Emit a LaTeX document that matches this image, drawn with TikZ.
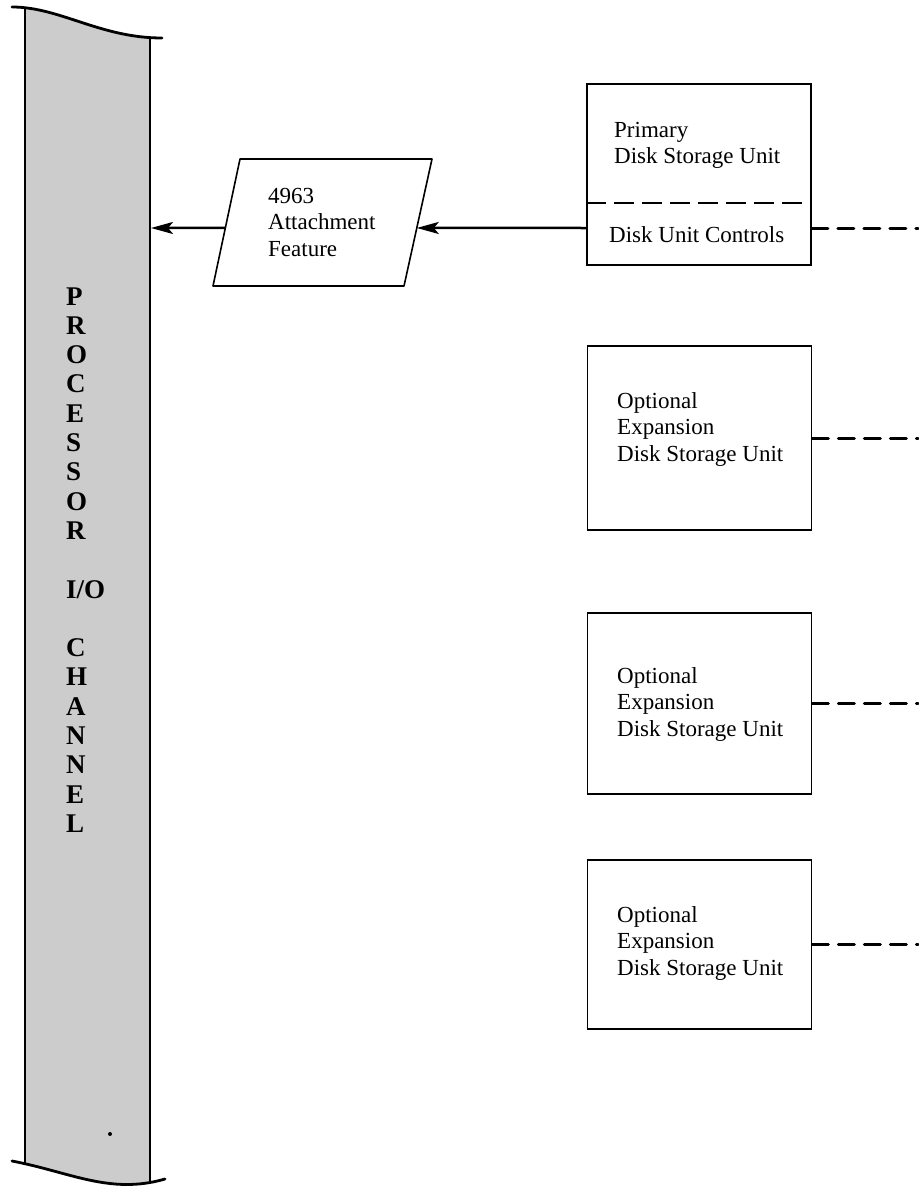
\documentclass[tikz,border=0pt]{standalone}
\usepackage{fontspec}
\setmainfont{Liberation Serif}
\usetikzlibrary{arrows.meta,calc}

\tikzset{
  unit/.style={draw, line width=1.6pt, minimum width=224pt, inner sep=0pt},
  unittext/.style={anchor=base west, align=left, inner sep=0pt,
    font=\fontsize{23}{26.8}\selectfont},
  chantext/.style={anchor=base west, align=left, inner sep=0pt,
    font=\bfseries\fontsize{27}{29.3}\selectfont},
  feed/.style={line width=2.5pt, -{Stealth[length=22pt,width=12pt,inset=5pt]}},
  cable/.style={line width=3pt, line cap=round, dash pattern=on 16pt off 10pt},
  divider/.style={line width=1.3pt, dash pattern=on 20pt off 8pt},
  chanline/.style={line width=2pt},
  chanend/.style={line width=2.8pt, line cap=round},
}

\begin{document}
\begin{tikzpicture}[x=1pt,y=-1pt]
\useasboundingbox (0,0) rectangle (918,1188);

% Processor I/O channel
\begin{scope}
  \clip (25,0) rectangle (150,1188);
  \fill[black!20] (12,7) .. controls (60,7) and (100,38) .. (162,38)
    -- (165,1179) .. controls (110,1195) and (70,1172) .. (12,1161) -- cycle;
\end{scope}
\draw[chanline] (25,8) -- (25,1163);
\draw[chanline] (150,37) -- (150,1184);
\draw[chanend] (12,7) .. controls (60,7) and (100,38) .. (162,38);
\draw[chanend] (12,1161) .. controls (70,1172) and (110,1195) .. (165,1179);
\fill (110,1134) circle (2pt);
% base of the text is the baseline of its last line (L)
\node[chantext] (chantxt) at (66,832.4)
  {P\\R\\O\\C\\E\\S\\S\\O\\R\\[29.3pt]I/O\\[29.3pt]C\\H\\A\\N\\N\\E\\L};
\coordinate (chanR) at (151,228);

% levels of the connections
\coordinate (div) at (0,203);
\coordinate (port) at (0,228);

% 4963 attachment feature
\coordinate (atl) at (240,159);
\coordinate (atr) at (432,159);
\coordinate (abr) at (404,286);
\coordinate (abl) at (213,286);
\draw[line width=1.6pt, line join=round] (atl) -- (atr) -- (abr) -- (abl) -- cycle;
\node[unittext] (atttxt) at (268,256.6) {4963\\Attachment\\Feature};
\coordinate (attR) at ($(atr)!0.543!(abr)$);
\coordinate (attL) at ($(atl)!0.543!(abl)$);

% Primary disk storage unit
\node[unit, minimum height=181pt] (prim) at (699,174.5) {};
\draw[divider] (prim.west |- div) -- (prim.east |- div);
\node[unittext] (primtxt) at (614,163.8) {Primary\\Disk Storage Unit};
\node[unittext] (ctltxt) at (609,242) {Disk Unit Controls};
\coordinate (end0) at (918,228);

\draw[feed] (prim.west |- port) -- (attR);
\draw[feed] (attL) -- (chanR);
\draw[cable] (prim.east |- port) -- (end0);

% Optional expansion disk storage units
\foreach \n/\y/\h/\t in {1/438/184pt/461.6, 2/703.5/181pt/736.6, 3/944.5/169pt/975.6} {
  \node[unit, minimum height=\h] (opt\n) at (699.5,\y) {};
  \node[unittext] (opt\n txt) at (617,\t) {Optional\\Expansion\\Disk Storage Unit};
  \coordinate (end\n) at (918,\y);
  \draw[cable] (opt\n.east) -- (end\n);
}

\end{tikzpicture}
\end{document}
